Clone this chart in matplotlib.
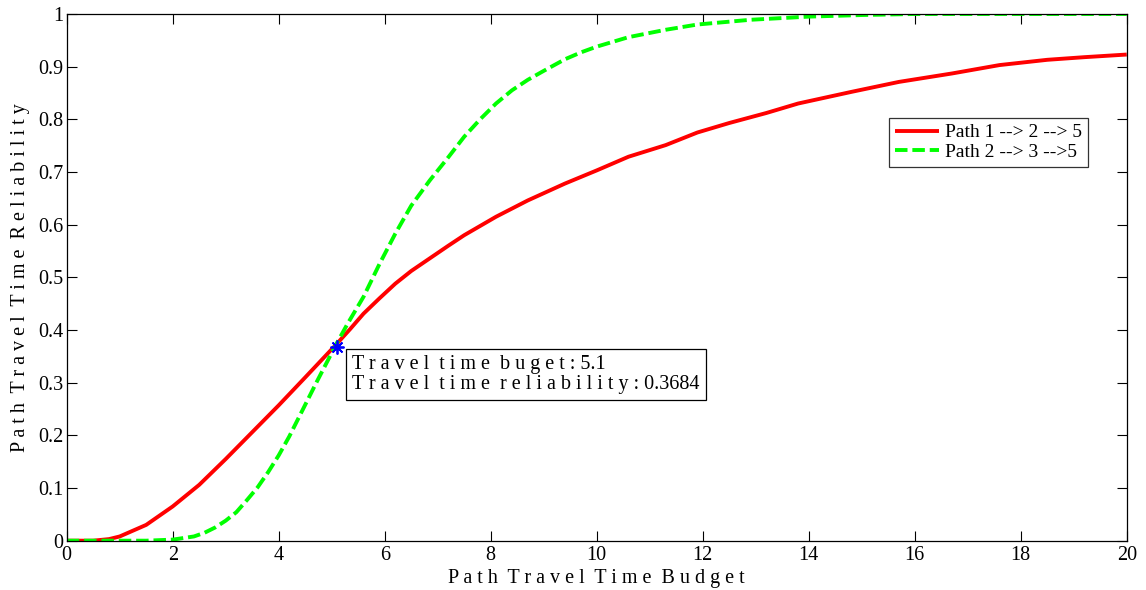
import matplotlib
matplotlib.use("Agg")
import matplotlib.pyplot as plt

# ---- data ----
path1_x = [0, 0.5, 0.8, 1.0, 1.5, 2.0, 2.5, 3.0, 3.5, 4.0, 4.5, 5.08, 5.35, 5.6, 5.9,
           6.2, 6.5, 6.85, 7.2, 7.5, 8.1, 8.7, 9.4, 10.0, 10.6, 11.3, 11.9, 12.5, 13.2,
           13.8, 14.8, 15.7, 16.7, 17.6, 18.5, 19.2, 20]
path1_y = [0, 0, 0.003, 0.008, 0.030, 0.065, 0.106, 0.155, 0.206, 0.257, 0.310, 0.372,
           0.402, 0.431, 0.460, 0.488, 0.512, 0.536, 0.560, 0.580, 0.615, 0.646, 0.678,
           0.703, 0.729, 0.751, 0.775, 0.793, 0.812, 0.830, 0.852, 0.871, 0.887, 0.903,
           0.913, 0.918, 0.923]

path2_x = [0, 1.5, 2.0, 2.4, 2.6, 2.8, 3.0, 3.2, 3.4, 3.6, 3.8, 4.0, 4.2, 4.4, 4.73,
           5.08, 5.3, 5.6, 5.9, 6.2, 6.5, 6.85, 7.2, 7.5, 7.8, 8.1, 8.4, 8.7, 9.0, 9.4,
           9.7, 10.0, 10.6, 11.3, 11.9, 12.9, 14.0, 15, 16, 18, 20]
path2_y = [0, 0, 0.002, 0.008, 0.015, 0.025, 0.038, 0.054, 0.077, 0.101, 0.130, 0.162,
           0.198, 0.238, 0.304, 0.372, 0.412, 0.463, 0.525, 0.583, 0.636, 0.684, 0.728,
           0.767, 0.800, 0.830, 0.855, 0.875, 0.892, 0.914, 0.927, 0.938, 0.956, 0.970,
           0.980, 0.989, 0.995, 0.998, 1.0, 1.0, 1.0]

series_labels = ["Path 1 --> 2 --> 5", "Path 2 --> 3 -->5"]
budget = 5.1
reliability = 0.3684

x_ticks = [0, 2, 4, 6, 8, 10, 12, 14, 16, 18, 20]
y_ticks = [0, 0.1, 0.2, 0.3, 0.4, 0.5, 0.6, 0.7, 0.8, 0.9, 1]
y_tick_labels = ["0", "0.1", "0.2", "0.3", "0.4", "0.5", "0.6", "0.7", "0.8", "0.9", "1"]


def spaced(s):
    return " ".join(list(s)).replace("   ", "  ")


plt.rcParams["font.family"] = ["Liberation Serif", "DejaVu Serif"]
plt.rcParams["lines.scale_dashes"] = False

fig = plt.figure(figsize=(11.46, 5.90), dpi=100)
ax = fig.add_axes([0.0582, 0.0836, 0.9250, 0.8927])

ax.plot(path1_x, path1_y, color="#ff0000", lw=2.8, solid_capstyle="butt",
        solid_joinstyle="round", label=series_labels[0])
ax.plot(path2_x, path2_y, color="#00ff00", lw=2.8, linestyle=(0, (9, 3.5)),
        label=series_labels[1])
ax.plot([budget], [reliability], linestyle="none", marker=(8, 2, 0), markersize=10,
        markeredgecolor="#0000ff", markeredgewidth=1.3)

ax.set_xlim(0, 20)
ax.set_ylim(0, 1)
ax.set_xticks(x_ticks)
ax.set_xticklabels([str(v) for v in x_ticks])
ax.set_yticks(y_ticks)
ax.set_yticklabels(y_tick_labels)
ax.tick_params(direction="in", length=7, width=0.8, top=True, right=True,
               labelsize=14.5, colors="black")
ax.tick_params(axis="x", pad=4)
ax.tick_params(axis="y", pad=2.5)
for sp in ax.spines.values():
    sp.set_linewidth(0.9)
    sp.set_color("black")

ax.set_xlabel(spaced("Path Travel Time Budget"), fontsize=14.5, labelpad=3)
ax.set_ylabel(spaced("Path Travel Time Reliability"), fontsize=14.5, labelpad=6)

leg = ax.legend(loc="upper right", bbox_to_anchor=(0.9635, 0.8026), fontsize=14,
                frameon=True, fancybox=False, edgecolor="black", borderaxespad=0,
                handlelength=2.3, handletextpad=0.3, borderpad=0.3,
                labelspacing=0.1)
leg.get_frame().set_linewidth(0.9)

txt = (spaced("Travel time buget:") + " " + str(budget) + "\n"
       + spaced("Travel time reliability:") + " " + str(reliability))
ax.text(0.2692, 0.3526, txt, transform=ax.transAxes, ha="left", va="top",
        fontsize=14.5, linespacing=1.1,
        bbox=dict(boxstyle="square,pad=0.3", facecolor="white", edgecolor="black",
                  linewidth=0.9))

fig.savefig("out.png", dpi=100)
